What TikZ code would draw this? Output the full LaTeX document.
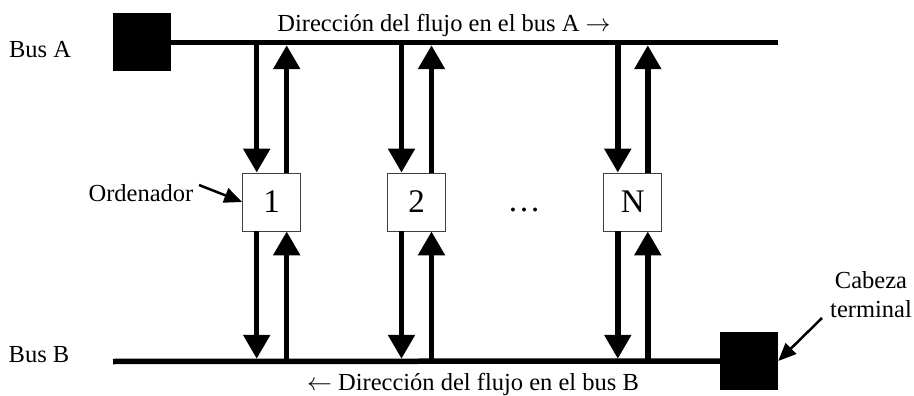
\documentclass[tikz,border=0pt]{standalone}
\usepackage{fontspec}
\setmainfont{Liberation Serif}
\usetikzlibrary{arrows.meta}
\begin{document}
\begin{tikzpicture}[x=1pt,y=-1pt,
  bus/.style={line width=5.5pt},
  term/.style={fill=black, draw=none, minimum size=58pt, inner sep=0pt},
  station/.style={draw=black!75, line width=0.9pt, fill=white, minimum size=58pt, inner sep=0pt, font=\fontsize{33}{36}\selectfont},
  flow/.style={line width=5.5pt, -{Triangle[length=24pt,width=26pt]}},
  pointer/.style={line width=2.5pt, -{Triangle[length=18pt,width=15pt]}},
  lbl/.style={font=\fontsize{24.5}{29}\selectfont, inner sep=0pt}]
\useasboundingbox (0,0) rectangle (914,396);
% terminals and buses
\node[term] (tA) at (141.5,42.5) {};
\node[term] (tB) at (749,361) {};
\coordinate (aEnd) at (778,42.5);
\coordinate (aEdge) at (778,45.25);
\coordinate (bStart) at (113,361.5);
\coordinate (bEdge) at (113,358.75);
\draw[bus] (tA.east) -- (aEnd);
\draw[bus] (bStart) -- (tB.west);
% stations
\node[station] (s1) at (271.7,202) {1};
\node[station] (s2) at (416.5,202) {2};
\node[station] (sN) at (632.8,202) {N};
\node[font=\fontsize{33}{36}\selectfont, inner sep=0pt, anchor=base] (dots) at (524,211) {…};
\foreach \s in {s1,s2,sN} {
  \path (\s.north) ++(-15,0) coordinate (\s-nw);
  \path (\s.north) ++(15,0) coordinate (\s-ne);
  \path (\s.south) ++(-15,0) coordinate (\s-sw);
  \path (\s.south) ++(15,0) coordinate (\s-se);
  \draw[flow] (\s-nw |- aEnd) -- (\s-nw);
  \draw[flow] (\s-ne) -- (\s-ne |- aEdge);
  \draw[flow] (\s-sw) -- (\s-sw |- bEdge);
  \draw[flow] (\s-se |- bStart) -- (\s-se);
}
% labels
\node[lbl, anchor=base] (busA) at (40,57.3) {Bus A};
\node[lbl, anchor=base] (busB) at (39,362) {Bus B};
\node[lbl, anchor=base] (dirA) at (444,32) {Dirección del flujo en el bus A $\rightarrow$};
\node[lbl, anchor=base] (dirB) at (473,390) {$\leftarrow$ Dirección del flujo en el bus B};
\node[lbl, anchor=base] (ord) at (141,201) {Ordenador};
\coordinate (ordTail) at (199,185);
\draw[pointer] (ordTail) -- (s1.west);
\node[lbl, anchor=base] (cab1) at (871,288) {Cabeza};
\node[lbl, anchor=base] (cab2) at (871,317) {terminal};
\coordinate (cabTail) at (822,318);
\draw[pointer] (cabTail) -- (tB.east);
\end{tikzpicture}
\end{document}
